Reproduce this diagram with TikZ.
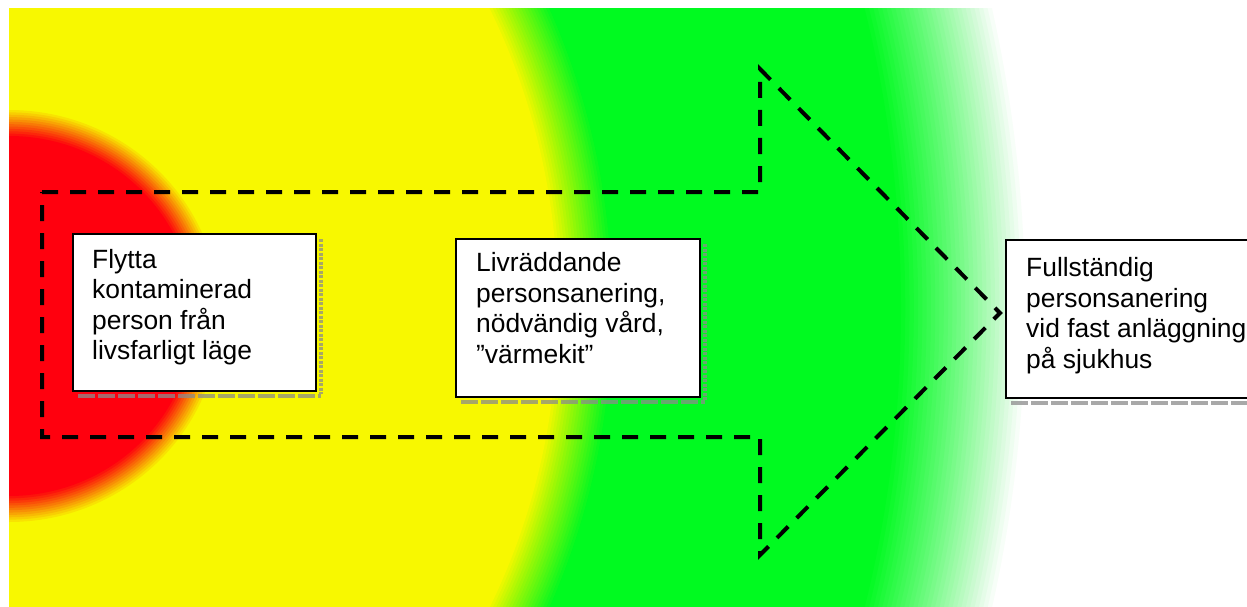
\documentclass[tikz,border=0pt]{standalone}
\usepackage{fontspec}
\setmainfont{Liberation Sans}
\definecolor{zred}{RGB}{255,0,14}
\definecolor{zyellow}{RGB}{248,248,0}
\definecolor{zgreen}{RGB}{0,250,32}
\begin{document}
\begin{tikzpicture}[x=1pt,y=-1pt,
  box/.style={draw=black, line width=2pt, fill=white, anchor=north west, inner sep=0pt},
  txt/.style={anchor=north west, inner sep=0pt, align=left, font=\fontsize{26.4}{30.5}\selectfont},
  shadowb/.style={draw=gray!90, draw opacity=0.75, line width=4pt, dash pattern=on 17pt off 3pt},
  shadowr/.style={draw=gray!90, draw opacity=0.75, line width=4pt, dash pattern=on 3pt off 1.5pt},
  arrowline/.style={draw=black, line width=4pt, dash pattern=on 16pt off 12pt, line join=miter}
]
\useasboundingbox (0,0) rectangle (1247,607);
\clip (0,0) rectangle (1247,607);
\fill[white] (0,0) rectangle (1247,607);
% coloured zones
\begin{scope}
  \clip (9,9) rectangle (1247,607);
  % green, fading to white
  \foreach \i in {1,...,30}{
    \pgfmathsetmacro\al{1/(30-\i+1)}
    \pgfmathsetmacro\dd{62-(\i-1)*124/29}
    \fill[zgreen, opacity=\al] (9,308) ellipse [x radius={954pt+\dd pt}, y radius={1118pt+\dd pt}];
  }
  % yellow
  \foreach \i in {1,...,20}{
    \pgfmathsetmacro\al{1/(20-\i+1)}
    \pgfmathsetmacro\dd{27-(\i-1)*54/19}
    \fill[zyellow, opacity=\al] (9,308) ellipse [x radius={576pt+\dd pt}, y radius={646pt+\dd pt}];
  }
  % red
  \foreach \i in {1,...,12}{
    \pgfmathsetmacro\al{1/(12-\i+1)}
    \pgfmathsetmacro\dd{13-(\i-1)*26/11}
    \fill[zred, opacity=\al] (9,316) ellipse [x radius={198pt+\dd pt}, y radius={193pt+\dd pt}];
  }
\end{scope}
% dashed arrow
\coordinate (a1) at (42,192);
\coordinate (a2) at (760,192);
\coordinate (a3) at (760,69);
\coordinate (a4) at (1000,313);
\coordinate (a5) at (760,555);
\coordinate (a6) at (760,437);
\coordinate (a7) at (42,437);
\draw[arrowline] (a1) -- (a2) -- (a3) -- (a4) -- (a5) -- (a6) -- (a7) -- cycle;
% boxes
\node[box, minimum width=243pt, minimum height=157pt] (b1) at (72,233) {};
\node[box, minimum width=244pt, minimum height=158pt] (b2) at (455,238) {};
\node[box, minimum width=262pt, minimum height=158pt] (b3) at (1005,239) {};
% shadows
\foreach \b in {b1,b2,b3}{
  \draw[shadowb] ([shift={(6pt,-4pt)}]\b.south west) -- ([shift={(4pt,-4pt)}]\b.south east);
  \draw[shadowr] ([shift={(4pt,-6pt)}]\b.north east) -- ([shift={(4pt,-2pt)}]\b.south east);
}
% texts
\node[txt] (t1) at (92,249) {Flytta\\kontaminerad\\person från\\livsfarligt läge};
\node[txt] (t2) at (476,252.5) {Livräddande\\personsanering,\\nödvändig vård,\\”värmekit”};
\node[txt] (t3) at (1026,257.5) {Fullständig\\personsanering\\vid fast anläggning\\på sjukhus};
\end{tikzpicture}
\end{document}
